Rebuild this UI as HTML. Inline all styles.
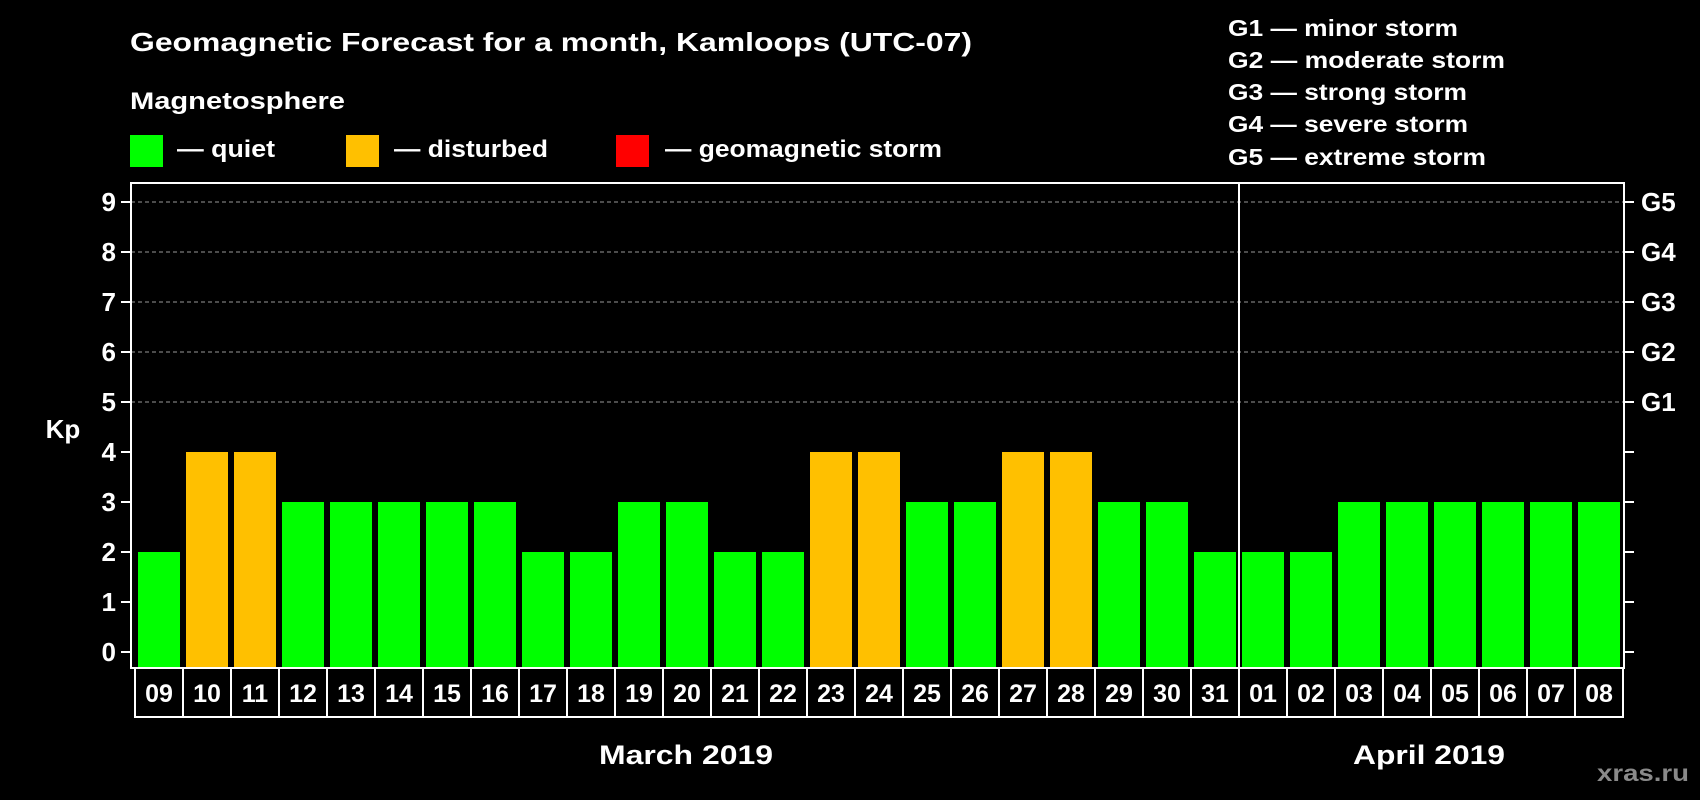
<!DOCTYPE html>
<html><head><meta charset="utf-8"><style>
html,body{margin:0;padding:0;background:#000;}
svg{display:block;font-family:"Liberation Sans",Arial,sans-serif;font-weight:bold;}
</style></head><body>
<svg id="chart" width="1700" height="800" viewBox="0 0 1700 800">
<rect x="0" y="0" width="1700" height="800" fill="#000"/>
<text x="130" y="51" fill="#fff" font-size="26" textLength="842" lengthAdjust="spacingAndGlyphs">Geomagnetic Forecast for a month, Kamloops (UTC-07)</text>
<text x="130" y="109" fill="#fff" font-size="24" textLength="215" lengthAdjust="spacingAndGlyphs">Magnetosphere</text>
<g>
<rect x="130" y="135" width="33" height="32" fill="#00ff00"/>
<text x="177" y="157" fill="#fff" font-size="24" textLength="98" lengthAdjust="spacingAndGlyphs">— quiet</text></g>
<g>
<rect x="346" y="135" width="33" height="32" fill="#ffc000"/>
<text x="394" y="157" fill="#fff" font-size="24" textLength="154" lengthAdjust="spacingAndGlyphs">— disturbed</text></g>
<g>
<rect x="616" y="135" width="33" height="32" fill="#ff0000"/>
<text x="665" y="157" fill="#fff" font-size="24" textLength="277" lengthAdjust="spacingAndGlyphs">— geomagnetic storm</text></g>
<g fill="#fff" font-size="23">
<text x="1228" y="36" textLength="230" lengthAdjust="spacingAndGlyphs">G1 — minor storm</text>
<text x="1228" y="68" textLength="277" lengthAdjust="spacingAndGlyphs">G2 — moderate storm</text>
<text x="1228" y="100" textLength="239" lengthAdjust="spacingAndGlyphs">G3 — strong storm</text>
<text x="1228" y="132" textLength="240" lengthAdjust="spacingAndGlyphs">G4 — severe storm</text>
<text x="1228" y="165" textLength="258" lengthAdjust="spacingAndGlyphs">G5 — extreme storm</text>
</g>
<text x="63" y="438" fill="#fff" font-size="26" text-anchor="middle">Kp</text>
<g id="grid"></g><g id="bars"></g><g id="axes"></g><g id="dates"></g>
<text x="686" y="764" fill="#fff" font-size="27" text-anchor="middle" textLength="174" lengthAdjust="spacingAndGlyphs">March 2019</text>
<text x="1429" y="764" fill="#fff" font-size="27" text-anchor="middle" textLength="152" lengthAdjust="spacingAndGlyphs">April 2019</text>
<text x="1643" y="781" fill="#8a8a8a" font-size="23" text-anchor="middle" textLength="92" lengthAdjust="spacingAndGlyphs">xras.ru</text>
</svg>
<script>
const days = ["09","10","11","12","13","14","15","16","17","18","19","20","21","22","23","24","25","26","27","28","29","30","31","01","02","03","04","05","06","07","08"];
const kpValues = [2,4,4,3,3,3,3,3,2,2,3,3,2,2,4,4,3,3,4,4,3,3,2,2,2,3,3,3,3,3,3];
const yTicks = [0,1,2,3,4,5,6,7,8,9];
const gLabels = ["","","","","","G1","G2","G3","G4","G5"];
const monthBreakIndex = 23;

const NS = "http://www.w3.org/2000/svg";
const plotL = 131, plotR = 1624, plotT = 183, plotB = 668;
const x0 = 138, pitch = 48, barW = 42;
function yScale(v){ return 652 - v * 50; }
function xScale(i){ return x0 + i * pitch; }
function mk(tag, attrs, parent){ const e = document.createElementNS(NS, tag); for (const k in attrs) e.setAttribute(k, attrs[k]); parent.appendChild(e); return e; }

const grid = document.getElementById('grid');
const axes = document.getElementById('axes');
const bars = document.getElementById('bars');
const dates = document.getElementById('dates');

yTicks.forEach((v, i) => {
  const y = yScale(v);
  if (v >= 5) {
    const g = mk('line', {x1: plotL, x2: plotR, y1: y, y2: y, stroke: '#999', 'stroke-width': 1, 'stroke-dasharray': '4,3'}, grid);
    
    
  }
  const tl = mk('line', {x1: 121, x2: plotL, y1: y, y2: y, stroke: '#fff', 'stroke-width': 2}, axes);
  
  
  const tr = mk('line', {x1: plotR, x2: 1634, y1: y, y2: y, stroke: '#fff', 'stroke-width': 2}, axes);
  
  
  const t = mk('text', {x: 116, y: y + 9, fill: '#fff', 'font-size': 26, 'text-anchor': 'end'}, axes);
  t.textContent = String(v);
  
  
  if (gLabels[i]) {
    const g = mk('text', {x: 1641, y: y + 9, fill: '#fff', 'font-size': 26}, axes);
    g.textContent = gLabels[i];
    
    
  }
});

kpValues.forEach((v, i) => {
  const x = xScale(i);
  const r = mk('rect', {x: x, y: yScale(v), width: barW, height: plotB - yScale(v), fill: v >= 5 ? '#ff0000' : (v >= 4 ? '#ffc000' : '#00ff00')}, bars);
  
  
  const b = mk('rect', {x: x - 3, y: plotB, width: pitch, height: 49, fill: 'none', stroke: '#fff', 'stroke-width': 2}, dates);
  
  
  const t = mk('text', {x: x - 3 + pitch / 2, y: 702, fill: '#fff', 'font-size': 25, 'text-anchor': 'middle'}, dates);
  t.textContent = days[i];
  
  
});

const frame = mk('rect', {x: plotL, y: plotT, width: plotR - plotL, height: plotB - plotT, fill: 'none', stroke: '#fff', 'stroke-width': 2}, axes);


const divX = xScale(monthBreakIndex) - 3;
const div = mk('line', {x1: divX, x2: divX, y1: plotT, y2: plotB, stroke: '#fff', 'stroke-width': 2}, axes);


</script>
</body></html>
